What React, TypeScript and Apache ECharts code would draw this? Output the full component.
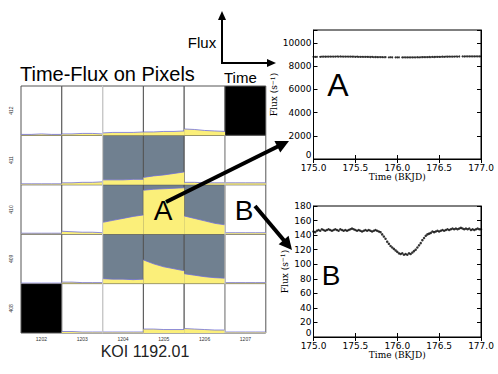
import React, { useEffect, useRef } from 'react';
import * as echarts from 'echarts';

// ---- pixel-grid data ----
const cellTypes = [
  ['w', 'w', 'w', 'w', 'w', 'k'],
  ['w', 'w', 'g', 'g', 'w', 'w'],
  ['w', 'w', 'g', 'g', 'g', 'w'],
  ['w', 'w', 'g', 'g', 'g', 'w'],
  ['k', 'w', 'w', 'w', 'w', 'w'],
];
// normalized flux (fraction of the cell height) across the time window, per cell
const row0Flux = [
  [0.02, 0.02, 0.03, 0.02, 0.02],
  [0.03, 0.03, 0.04, 0.04, 0.03],
  [0.05, 0.06, 0.06, 0.06, 0.07],
  [0.07, 0.07, 0.08, 0.08, 0.09],
  [0.13, 0.12, 0.1, 0.09, 0.08],
  null,
];
const row1Flux = [
  [0.02, 0.02, 0.02, 0.02, 0.02],
  [0.04, 0.04, 0.05, 0.05, 0.06],
  [0.1, 0.1, 0.1, 0.11, 0.11],
  [0.15, 0.18, 0.2, 0.23, 0.26],
  [0.05, 0.05, 0.04, 0.04, 0.04],
  [0.04, 0.04, 0.04, 0.04, 0.04],
];
const row2Flux = [
  [0.02, 0.02, 0.02, 0.02, 0.02],
  [0.06, 0.05, 0.04, 0.04, 0.03],
  [0.24, 0.28, 0.32, 0.36, 0.39],
  [0.89, 0.91, 0.92, 0.93, 0.94],
  [0.37, 0.32, 0.27, 0.22, 0.19],
  [0.03, 0.03, 0.03, 0.03, 0.03],
];
const row3Flux = [
  [0.01, 0.01, 0.01, 0.01, 0.01],
  [0.03, 0.03, 0.02, 0.02, 0.02],
  [0.1, 0.09, 0.09, 0.08, 0.09],
  [0.48, 0.4, 0.34, 0.3, 0.26],
  [0.2, 0.17, 0.14, 0.12, 0.11],
  [0.02, 0.02, 0.02, 0.02, 0.02],
];
const row4Flux = [
  null,
  [0.03, 0.03, 0.02, 0.02, 0.02],
  [0.02, 0.02, 0.02, 0.02, 0.02],
  [0.08, 0.08, 0.07, 0.07, 0.07],
  [0.09, 0.08, 0.07, 0.06, 0.06],
  [0.02, 0.02, 0.02, 0.02, 0.02],
];
const cellFlux = [row0Flux, row1Flux, row2Flux, row3Flux, row4Flux];
const colLabels = ['1202', '1203', '1204', '1205', '1206', '1207'];
const rowLabels = ['412', '411', '410', '409', '408'];

// ---- light curves ----
const timeBKJD = [
  175.0, 175.02, 175.04, 175.06, 175.08, 175.1, 175.12, 175.14, 175.16, 175.18,
  175.2, 175.22, 175.24, 175.26, 175.28, 175.3, 175.32, 175.34, 175.36, 175.38,
  175.4, 175.42, 175.44, 175.46, 175.48, 175.5, 175.52, 175.54, 175.56, 175.58,
  175.6, 175.62, 175.64, 175.66, 175.68, 175.7, 175.72, 175.74, 175.76, 175.78,
  175.8, 175.82, 175.84, 175.86, 175.88, 175.9, 175.92, 175.94, 175.96, 175.98,
  176.0, 176.02, 176.04, 176.06, 176.08, 176.1, 176.12, 176.14, 176.16, 176.18,
  176.2, 176.22, 176.24, 176.26, 176.28, 176.3, 176.32, 176.34, 176.36, 176.38,
  176.4, 176.42, 176.44, 176.46, 176.48, 176.5, 176.52, 176.54, 176.56, 176.58,
  176.6, 176.62, 176.64, 176.66, 176.68, 176.7, 176.72, 176.74, 176.76, 176.78,
  176.8, 176.82, 176.84, 176.86, 176.88, 176.9, 176.92, 176.94, 176.96, 176.98,
  177.0,
];
const fluxA = [
  8780, 8785, 8790, null, 8795, 8800, 8805, 8800, 8805, 8810,
  8810, 8815, 8810, 8815, 8820, 8815, 8820, 8815, 8810, 8815,
  8810, 8805, 8810, 8800, 8805, 8795, 8800, 8790, 8795, 8790,
  8785, 8790, 8780, 8785, 8775, 8780, 8770, 8775, 8765, 8770,
  8760, 8765, 8755, 8760, null, 8750, 8755, 8750, null, 8745,
  8750, 8745, null, 8740, 8745, 8740, 8745, 8740, 8745, 8750,
  8745, 8750, 8755, 8750, 8755, 8760, 8765, 8760, 8770, 8775,
  8770, 8780, 8775, 8785, 8790, 8785, 8795, 8800, 8795, 8805,
  8800, 8810, 8805, 8815, 8810, 8820, 8815, 8820, null, 8825,
  8820, 8825, 8830, 8825, 8830, 8825, 8830, 8835, 8830, 8835,
  8830,
];
const fluxB = [
  145, 144, 146, 147, 146, 148, 147, 146, 147, 148,
  147, 146, 147, 148, 147, 146, 148, 147, 146, 147,
  146, 147, 148, 149, 148, 147, 146, 147, 146, 145,
  146, 147, 146, 147, 146, 145, 146, 147, 146, 145,
  144, 141, 138, 135, 131, 128, 125, 123, 121, 119,
  117, 115, 114, 115, 113, 114, 113, 115, 114, 116,
  118, 120, 123, 126, 129, 133, 136, 139, 141, 142,
  143, 145, 144, 145, 146, 145, 146, 147, 146, 147,
  148, 147, 148, 149, 148, 149, 148, 149, 150, 149,
  148, 149, 148, 149, 147, 148, 147, 148, 149, 148,
  148,
];

const SANS = '"Liberation Sans", Arial, sans-serif';
const TICKFONT = '"DejaVu Sans", sans-serif';
const SERIF = '"DejaVu Serif", serif';

function buildOption() {
  const grids: any[] = [];
  const xAxes: any[] = [];
  const yAxes: any[] = [];
  const series: any[] = [];
  const gx = 21, gy = 86, cw = 40.8, ch = 49.4;
  const bg: Record<string, string> = { w: '#ffffff', g: '#708090', k: '#000000' };
  let gi = 0;
  for (let r = 0; r < 5; r++) {
    for (let c = 0; c < 6; c++) {
      grids.push({
        left: gx + c * cw, top: gy + r * ch, width: cw, height: ch,
        show: true, backgroundColor: bg[cellTypes[r][c]],
        borderColor: '#555', borderWidth: 1,
      });
      xAxes.push({
        gridIndex: gi, type: 'value', min: 0, max: 4,
        axisLine: { show: false }, axisTick: { show: false }, axisLabel: { show: false },
        splitLine: { show: false },
        name: r === 4 ? colLabels[c] : '', nameLocation: 'middle', nameGap: 3,
        nameTextStyle: { fontSize: 5, color: '#333', fontFamily: SANS },
      });
      yAxes.push({
        gridIndex: gi, type: 'value', min: 0, max: 1,
        axisLine: { show: false }, axisTick: { show: false }, axisLabel: { show: false },
        splitLine: { show: false },
        name: c === 0 ? rowLabels[r] : '', nameLocation: 'middle', nameGap: 8, nameRotate: 90,
        nameTextStyle: { fontSize: 5, color: '#333', fontFamily: SANS },
      });
      const f = cellFlux[r][c];
      if (f) {
        series.push({
          type: 'line', xAxisIndex: gi, yAxisIndex: gi, silent: true,
          data: f.map((v, i) => [i, v]), showSymbol: false,
          lineStyle: { color: '#6f6fdc', width: 0.8 },
          areaStyle: { color: '#fbef7a', opacity: 1 },
        });
      }
      gi++;
    }
  }

  const panels = [
    { top: 30, height: 129, max: 11100, interval: 2000, flux: fluxA, nameGap: 33, size: 2 },
    { top: 206, height: 131, max: 180, interval: 20, flux: fluxB, nameGap: 24, size: 2.5 },
  ];
  panels.forEach((p) => {
    grids.push({ left: 313.5, top: p.top, width: 167.5, height: p.height, show: true, borderColor: '#000', borderWidth: 1, backgroundColor: '#fff' });
    const base = { gridIndex: gi, type: 'value', min: 175, max: 177, interval: 0.5, splitLine: { show: false } };
    xAxes.push({
      ...base,
      axisLine: { show: true, lineStyle: { color: '#000', width: 1 } },
      axisTick: { inside: true, length: 4, lineStyle: { color: '#000' } },
      axisLabel: { formatter: (v: number) => v.toFixed(1), fontSize: 9, color: '#000', margin: 4, fontFamily: TICKFONT },
      name: 'Time (BKJD)', nameLocation: 'middle', nameGap: 13,
      nameTextStyle: { fontFamily: SERIF, fontSize: 9, color: '#000' },
    });
    const xTopIdx = xAxes.length;
    xAxes.push({
      ...base, position: 'top',
      axisLine: { show: true, lineStyle: { color: '#000' } },
      axisTick: { inside: true, length: 4, lineStyle: { color: '#000' } },
      axisLabel: { show: false },
    });
    const ybase = { gridIndex: gi, type: 'value', min: 0, max: p.max, interval: p.interval, splitLine: { show: false } };
    yAxes.push({
      ...ybase,
      axisLine: { show: true, lineStyle: { color: '#000' } },
      axisTick: { inside: true, length: 4, lineStyle: { color: '#000' } },
      axisLabel: {
        fontSize: 9, color: '#000', margin: 2, fontFamily: TICKFONT,
        formatter: (v: number) => {
          if (v > p.max - p.interval / 2 && v % p.interval !== 0) return '';
          if (v === 0) return '{z|0}';
          return String(v);
        },
        rich: { z: { fontSize: 9, color: '#000', fontFamily: TICKFONT, padding: [0, 0, 9, 0] } },
      },
      name: 'Flux (s{sup|−1})', nameLocation: 'middle', nameGap: p.nameGap, nameRotate: 90,
      nameTextStyle: {
        fontFamily: SERIF, fontSize: 9, color: '#000',
        rich: { sup: { fontFamily: SERIF, fontSize: 6, color: '#000', verticalAlign: 'top', padding: [0, 0, 4, 0] } },
      },
    });
    yAxes.push({
      ...ybase, position: 'right',
      axisLine: { show: true, lineStyle: { color: '#000' } },
      axisTick: { inside: true, length: 4, lineStyle: { color: '#000' } },
      axisLabel: { show: false },
    });
    series.push({
      type: 'scatter', xAxisIndex: xTopIdx - 1, yAxisIndex: yAxes.length - 2, silent: true,
      data: timeBKJD.map((t, i) => [t, p.flux[i] === null ? '-' : p.flux[i]]),
      symbolSize: p.size, itemStyle: { color: '#000' },
    });
    gi++;
  });

  const arrow = (x1: number, y1: number, x2: number, y2: number, w: number, hl: number, hw: number) => {
    const dx = x2 - x1, dy = y2 - y1;
    const L = Math.sqrt(dx * dx + dy * dy);
    const ux = dx / L, uy = dy / L;
    const bx = x2 - ux * hl, by = y2 - uy * hl;
    const px = -uy * hw, py = ux * hw;
    return [
      { type: 'line', z: 100, shape: { x1, y1, x2: bx + ux, y2: by + uy }, style: { stroke: '#000', lineWidth: w }, silent: true },
      { type: 'polygon', z: 100, shape: { points: [[x2, y2], [bx + px, by + py], [bx - px, by - py]] }, style: { fill: '#000' }, silent: true },
    ];
  };
  const txt = (text: string, x: number, y: number, size: number, align = 'left', color = '#000', weight = 'normal') => ({
    type: 'text', x, y, z: 100, silent: true,
    style: { text, fill: color, font: `${weight} ${size}px ${SANS}`, align, verticalAlign: 'middle' },
  });

  const graphic = [
    { type: 'line', z: 100, silent: true, shape: { x1: 102.6, y1: 86, x2: 102.6, y2: 333 }, style: { stroke: '#c8c8c8', lineWidth: 1.2 } },
    { type: 'line', z: 100, silent: true, shape: { x1: 225, y1: 135.4, x2: 225, y2: 333 }, style: { stroke: '#c8c8c8', lineWidth: 1.2 } },
    txt('Time-Flux on Pixels', 20, 74, 20),
    txt('Flux', 202, 42, 15, 'center'),
    txt('Time', 224, 77, 15),
    txt('KOI 1192.01', 145, 351, 16, 'center', '#222'),
    txt('A', 163, 210, 28, 'center'),
    txt('B', 244, 210, 28, 'center'),
    txt('A', 338, 85, 32, 'center'),
    txt('B', 331, 275, 28, 'center'),
    { type: 'line', z: 100, shape: { x1: 222, y1: 63, x2: 260, y2: 63 }, style: { stroke: '#000', lineWidth: 2 }, silent: true },
    ...arrow(222, 64, 222, 11, 2, 9, 4),
    ...arrow(240, 63, 276, 63, 2, 9, 4),
    ...arrow(166, 202, 289, 141, 4, 13, 6.5),
    ...arrow(255, 206, 292, 250, 4, 13, 6.5),
  ];

  return {
    animation: false,
    backgroundColor: '#ffffff',
    grid: grids,
    xAxis: xAxes,
    yAxis: yAxes,
    series,
    graphic,
  };
}

export default function App() {
  const ref = useRef<HTMLDivElement>(null);
  useEffect(() => {
    if (!ref.current) return;
    const chart = echarts.init(ref.current, undefined, { renderer: 'svg' });
    chart.setOption(buildOption() as any);
    return () => chart.dispose();
  }, []);
  return <div ref={ref} style={{ position: 'fixed', left: 0, top: 0, width: 498, height: 374, background: '#fff' }} />;
}
